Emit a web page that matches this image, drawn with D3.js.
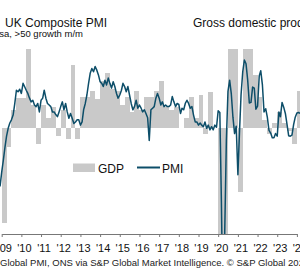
<!DOCTYPE html>
<html>
<head>
<meta charset="utf-8">
<script src="https://cdn.jsdelivr.net/npm/d3@7"></script>
<style>
  body { margin: 0; background: #fff; }
  svg { display: block; font-family: "Liberation Sans", Arial, sans-serif; }
</style>
</head>
<body>
<div id="chart"></div>
<script>

// UK composite PMI, monthly, starting Dec 2008
const pmiStart = new Date(2008, 11, 1);
const pmi = [
  39.0,
  41.7, 44.0, 46.3, 48.5, 50.0, 51.0, 51.6, 52.5, 54.7, 57.2, 56.9, 57.4,
  56.6, 58.5, 57.9, 57.2, 56.6, 55.7, 55.0, 55.3, 54.4, 54.1, 54.7, 53.1,
  55.3, 55.7, 57.2, 55.7, 54.7, 54.4, 54.1, 53.1, 53.1, 52.6, 52.2, 53.1,
  54.1, 55.0, 53.5, 54.7, 53.1, 51.9, 52.8, 51.9, 50.9, 51.2, 51.6, 51.6,
  50.6, 51.2, 53.5, 54.7, 56.3, 58.5, 60.4, 61.3, 60.7, 61.7, 61.0, 60.1,
  58.8, 58.5, 57.9, 59.1, 58.2, 59.5, 58.5, 57.6, 58.8, 57.9, 56.6, 55.7,
  56.3, 57.2, 58.5, 57.9, 56.9, 57.9, 56.3, 54.7, 53.5, 54.1, 55.3, 53.8,
  54.4, 53.8, 53.1, 53.5, 52.8, 52.0, 47.7, 53.5, 53.8, 54.1, 55.7, 56.6,
  55.7, 54.4, 55.0, 54.1, 54.4, 54.1, 54.1, 54.4, 56.0, 55.0, 54.1, 54.7,
  54.5, 52.8, 53.8, 53.5, 54.7, 55.3, 54.7, 53.8, 54.1, 52.5, 51.2, 51.2,
  50.6, 51.0, 50.6, 50.3, 51.2, 50.0, 50.6, 49.7, 50.3, 49.7, 50.6, 50.2,
  53.3, 53.0, 36.0, 13.8, 30.0, 47.7, 57.0, 59.1, 56.5, 52.1, 49.0, 50.4,
  41.2, 49.6, 56.4, 60.7, 62.9, 62.2, 59.2, 54.8, 54.9, 57.8, 57.6, 53.6,
  54.2, 59.9, 60.9, 58.2, 53.1, 53.7, 52.1, 49.6, 49.1, 48.2, 48.2, 49.0,
  48.5, 53.1, 52.2, 54.9, 54.0, 52.8, 50.8, 48.6, 48.5, 48.7, 50.7, 52.1,
  52.9, 53.0, 52.8
];

// GDP, % q/q, quarterly, starting 2009 Q1
const gdpStart = new Date(2009, 0, 1);
const gdp = [
  -1.8, -0.35, 0.35, 0.57,
  0.57, 1.6, 0.45, -0.3,
  0.45, 0.2, 0.4, -0.15,
  0.35, -0.2, 1.2, -0.2,
  0.6, 0.6, 0.7, 0.55,
  0.9, 1.05, 0.75, 0.7,
  0.45, 0.6, 0.3, 0.7,
  0.35, 0.6, 0.6, 0.7,
  0.9, 0.4, 0.35, 0.4,
  0.0, 0.2, 0.6, 0.2,
  0.63, -0.1, 0.69, 0.0,
  -2.8, -20, 17, 1.5,
  -1.2, 6.5, 1.5, 1.0,
  0.6, 0.15, -0.1, 0.1,
  0.3, 0.1, -0.05, -0.3,
  0.7
];

const years = d3.range(2009, 2025);
const yearLabels = years.map(y => "'" + String(y).slice(2));

const title = "UK Composite PMI";
const subtitle = "Index, sa, >50 growth m/m";
const rightTitle = "Gross domestic product, % q/q";
const sourcePrefix = "Sources: S&P ";
const source = sourcePrefix + "Global PMI, ONS via S&P Global Market Intelligence. © S&P Global 2024.";

const w = 300, h = 280;
const plotTop = 49, plotBottom = 234;
const lineColor = "#0d4e69";
const barColor = "#c9c9c9";

const svg = d3.select("#chart").append("svg").attr("width", w).attr("height", h);

const x = d3.scaleTime()
    .domain([new Date(2009, 0, 1), new Date(2024, 0, 1)])
    .range([1.7, 296.9]);
const yPmi = d3.scaleLinear().domain([30, 65]).range([plotBottom, plotTop]);
const yGdp = d3.scaleLinear().domain([-2, 1.5]).range([plotBottom, plotTop]);

svg.append("clipPath").attr("id", "plot-clip")
   .append("rect").attr("x", 0).attr("y", plotTop).attr("width", w).attr("height", plotBottom - plotTop);

const plot = svg.append("g").attr("clip-path", "url(#plot-clip)");

// gdp bars
const gdpData = gdp.map((v, i) => ({
    start: d3.timeMonth.offset(gdpStart, 3 * i),
    end: d3.timeMonth.offset(gdpStart, 3 * i + 3),
    v: v
}));

plot.selectAll(".bar").data(gdpData).enter()
    .append("rect")
    .attr("class", "bar")
    .attr("x", d => x(d.start))
    .attr("width", d => x(d.end) - x(d.start))
    .attr("y", d => Math.min(yGdp(d.v), yGdp(0)))
    .attr("height", d => Math.abs(yGdp(d.v) - yGdp(0)))
    .attr("fill", barColor)
    .attr("shape-rendering", "crispEdges");

// pmi line
const pmiData = pmi.map((v, i) => ({ date: d3.timeMonth.offset(pmiStart, i), v: v }));

plot.append("path")
    .datum(pmiData)
    .attr("fill", "none")
    .attr("stroke", lineColor)
    .attr("stroke-width", 1.5)
    .attr("stroke-linejoin", "round")
    .attr("d", d3.line().x(d => x(d.date)).y(d => yPmi(d.v)));

// x axis
const axis = svg.append("g")
    .attr("transform", `translate(0,${plotBottom})`)
    .call(d3.axisBottom(x)
        .tickValues(years.map(y => new Date(y, 0, 1)))
        .tickFormat((d, i) => yearLabels[i])
        .tickSize(3)
        .tickSizeOuter(0)
        .tickPadding(7));

axis.select(".domain").attr("stroke", "#777");
axis.selectAll(".tick line").attr("stroke", "#777");
axis.selectAll(".tick text")
    .attr("dx", 2.5)
    .attr("fill", "#111")
    .style("font-size", "11px")
    .style("font-family", "'Liberation Sans', Arial, sans-serif");

// titles
svg.append("text").attr("x", 5).attr("y", 27)
   .style("font-size", "12px").attr("fill", "#111").text(title);

svg.append("text").attr("x", 83).attr("y", 37).attr("text-anchor", "end")
   .style("font-size", "9.5px").attr("fill", "#111").text(subtitle);

svg.append("text").attr("x", 193).attr("y", 27)
   .style("font-size", "12px").attr("fill", "#111").text(rightTitle);

// legend
const legend = svg.append("g");
legend.append("rect").attr("x", 73).attr("y", 163.5).attr("width", 22).attr("height", 8.5).attr("fill", barColor);
legend.append("text").attr("x", 98).attr("y", 172.5).style("font-size", "12px").attr("fill", "#111").text("GDP");
legend.append("line").attr("x1", 137).attr("x2", 160).attr("y1", 167.5).attr("y2", 167.5)
      .attr("stroke", lineColor).attr("stroke-width", 2);
legend.append("text").attr("x", 162).attr("y", 172.5).style("font-size", "12px").attr("fill", "#111").text("PMI");

// source line, shifted so the visible part starts at the left edge
const src = svg.append("text").attr("y", 266)
   .style("font-size", "9.5px").attr("fill", "#222").text(source);
const off = src.node().getSubStringLength(0, sourcePrefix.length);
src.attr("x", -off);

</script>
</body>
</html>
